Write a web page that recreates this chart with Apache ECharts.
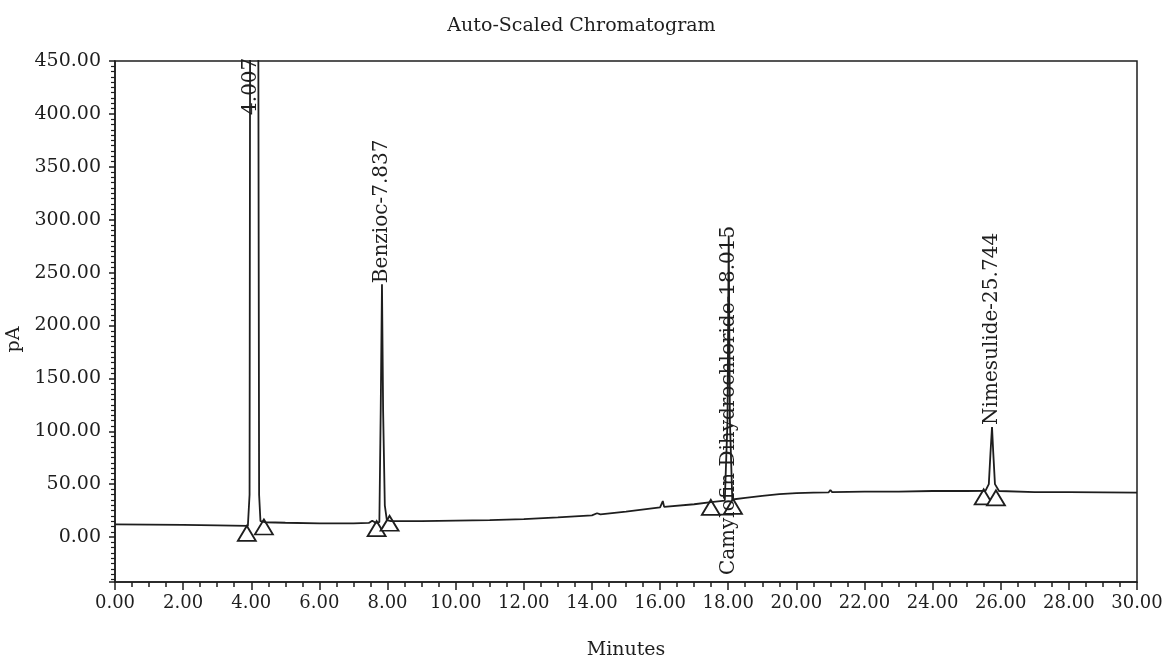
<!DOCTYPE html>
<html><head><meta charset="utf-8">
<script src="https://cdn.jsdelivr.net/npm/echarts@6/dist/echarts.min.js"></script>
<style>html,body{margin:0;padding:0;background:#fff}#c{width:1163px;height:659px}</style>
</head><body><div id="c"></div>
<script>
// Chromatogram trace: retention time (minutes) and detector signal (pA)
const timeMin = [0, 1, 2, 3, 3.9, 3.95, 3.97, 4.2, 4.23, 4.27, 4.4, 5, 6, 7, 7.45, 7.55, 7.65, 7.76, 7.8, 7.837, 7.87, 7.92, 7.98, 8.1, 9, 10, 11, 12, 13, 14, 14.15, 14.25, 15, 16, 16.05, 16.08, 16.12, 17, 17.5, 17.9, 17.98, 18.015, 18.05, 18.12, 18.5, 19, 19.5, 20, 20.5, 20.95, 21, 21.05, 22, 23, 24, 25, 25.55, 25.65, 25.7, 25.744, 25.78, 25.83, 25.95, 26, 27, 28, 29, 30];
const signalPA = [12, 11.8, 11.5, 11, 10.5, 40, 600, 600, 40, 15, 14, 13.5, 13, 13, 13.3, 15.5, 13.5, 14, 120, 239, 120, 30, 16, 15, 15, 15.5, 16, 17, 18.5, 20.5, 22.5, 21.5, 24, 28, 28.5, 34, 28.5, 31, 33, 34.5, 110, 285, 110, 35.5, 37, 39, 40.5, 41.5, 42, 42.3, 44.5, 42.5, 43, 43, 43.5, 43.5, 43.7, 50, 80, 104, 80, 50, 43.5, 43, 42.5, 42.5, 42.3, 42];

// Peak labels
const peakNames = ['4.007', 'Benzioc-7.837', 'Camylofin Dihydrochloride-18.015', 'Nimesulide-25.744'];
const peakLabelX = [4.0, 7.84, 18.02, 25.75];
const peakLabelY = [399, 240, -36, 106];

// Peak start/end markers (triangles)
const markerX = [3.87, 4.37, 7.68, 8.06, 17.49, 18.14, 25.5, 25.86];
const markerY = [3.5, 9.5, 8, 13, 28, 29, 38, 37];

const xMin = 0, xMax = 30, xStep = 2;
const yMin = -42.5, yMax = 450, yStep = 50;

const FONT = 'DejaVu Serif';
const INK = '#1e1e1e';

const chart = echarts.init(document.getElementById('c'));
chart.setOption({
  animation: false,
  backgroundColor: '#fff',
  title: {
    text: 'Auto-Scaled Chromatogram',
    left: 'center',
    top: 12,
    textStyle: { fontFamily: FONT, fontSize: 19, fontWeight: 'normal', color: INK }
  },
  grid: { left: 115, right: 26, top: 61, bottom: 77, show: true, borderColor: INK, borderWidth: 1.5,
    backgroundColor: 'transparent', outerBoundsMode: 'none', containLabel: false },
  xAxis: {
    type: 'value', min: xMin, max: xMax, interval: xStep,
    name: 'Minutes', nameLocation: 'middle', nameGap: 59,
    nameTextStyle: { fontFamily: FONT, fontSize: 19, color: INK },
    axisLine: { show: true, onZero: false, lineStyle: { color: INK, width: 1.5 } },
    axisTick: { show: true, length: 8, lineStyle: { color: INK, width: 1.5 } },
    minorTick: { show: true, splitNumber: 4, length: 5, lineStyle: { color: INK, width: 1.5 } },
    splitLine: { show: false },
    axisLabel: { fontFamily: FONT, fontSize: 18, color: INK, margin: 12, formatter: v => v.toFixed(2) }
  },
  yAxis: {
    type: 'value', min: yMin, max: yMax, minInterval: yStep, maxInterval: yStep, splitNumber: 10,
    name: 'pA', nameLocation: 'middle', nameGap: 85, nameRotate: 90,
    nameTextStyle: { fontFamily: FONT, fontSize: 19, color: INK, padding: [0, 36, 0, 0] },
    axisLine: { show: true, onZero: false, lineStyle: { color: INK, width: 1.5 } },
    axisTick: { show: true, length: 6, lineStyle: { color: INK, width: 1.5 } },
    minorTick: { show: true, splitNumber: 10, length: 4, lineStyle: { color: INK, width: 1.2 } },
    splitLine: { show: false },
    axisLabel: { fontFamily: FONT, fontSize: 19, color: INK, margin: 14, showMinLabel: false,
      formatter: v => (Math.abs(v % yStep) < 1e-9 ? v.toFixed(2) : '') }
  },
  series: [
    {
      type: 'scatter', name: 'markers', z: 2,
      symbol: 'triangle', symbolSize: [18, 15],
      itemStyle: { color: '#fff', borderColor: INK, borderWidth: 1.8, opacity: 1 },
      data: markerX.map((x, i) => [x, markerY[i]])
    },
    {
      type: 'line', name: 'signal', z: 3, clip: true,
      showSymbol: false, symbol: 'none',
      lineStyle: { color: INK, width: 1.8 },
      data: timeMin.map((t, i) => [t, signalPA[i]])
    },
    {
      type: 'scatter', name: 'peakLabels', z: 4,
      symbolSize: 0, silent: true,
      itemStyle: { opacity: 1 },
      label: {
        show: true, position: [0, 0], rotate: 90, align: 'left', verticalAlign: 'middle',
        fontFamily: FONT, fontSize: 20, color: INK, textBorderWidth: 0, opacity: 1,
        formatter: p => peakNames[p.dataIndex]
      },
      data: peakLabelX.map((x, i) => [x, peakLabelY[i]])
    }
  ]
});
</script></body></html>
